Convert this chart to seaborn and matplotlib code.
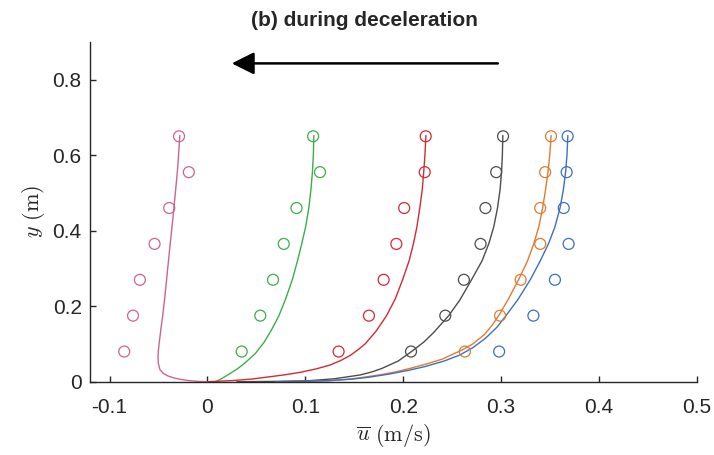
import matplotlib
matplotlib.use("Agg")
import matplotlib.pyplot as plt
import seaborn as sns

# measurement heights (m)
y_obs = [0.65, 0.555, 0.46, 0.365, 0.27, 0.175, 0.08]

u_pink = [-0.029, -0.019, -0.039, -0.054, -0.069, -0.076, -0.085]
u_green = [0.108, 0.115, 0.091, 0.078, 0.067, 0.054, 0.035]
u_red = [0.223, 0.222, 0.201, 0.193, 0.180, 0.165, 0.134]
u_gray = [0.302, 0.295, 0.284, 0.279, 0.262, 0.243, 0.208]
u_orange = [0.351, 0.345, 0.340, 0.340, 0.320, 0.299, 0.263]
u_blue = [0.368, 0.367, 0.364, 0.369, 0.355, 0.333, 0.298]

# model profiles (u, y)
curve_pink_y = [0.0, 0.001, 0.003, 0.006, 0.010, 0.015, 0.022, 0.032, 0.049, 0.065, 0.081, 0.102,
                0.14, 0.175, 0.22, 0.271, 0.32, 0.366, 0.41, 0.461, 0.51, 0.557, 0.60, 0.652]
curve_pink_u = [0.0, -0.010, -0.019, -0.027, -0.034, -0.040, -0.045, -0.0485, -0.0502, -0.0505, -0.0502, -0.0493,
                -0.0475, -0.0457, -0.0437, -0.0417, -0.0398, -0.038, -0.0362, -0.0342, -0.0324, -0.0307, -0.0295, -0.0282]

curve_green_y = [0.0, 0.006, 0.020, 0.035, 0.049, 0.075, 0.105, 0.14, 0.175, 0.22, 0.271, 0.32,
                 0.366, 0.41, 0.461, 0.51, 0.557, 0.60, 0.652]
curve_green_u = [0.008, 0.013, 0.022, 0.031, 0.038, 0.049, 0.058, 0.066, 0.0731, 0.080, 0.0868, 0.092,
                 0.0964, 0.1003, 0.1036, 0.1058, 0.1073, 0.1082, 0.1087]

curve_red_y = [0.0, 0.003, 0.007, 0.012, 0.018, 0.025, 0.034, 0.044, 0.056, 0.070, 0.085, 0.100, 0.133,
               0.175, 0.22, 0.271, 0.32, 0.366, 0.41, 0.461, 0.51, 0.557, 0.60, 0.652]
curve_red_u = [0.0, 0.025, 0.045, 0.060, 0.078, 0.095, 0.111, 0.125, 0.136, 0.146, 0.154, 0.161, 0.172,
               0.183, 0.192, 0.1995, 0.206, 0.2105, 0.214, 0.217, 0.2195, 0.221, 0.2222, 0.2232]

curve_gray_y = [0.0, 0.001, 0.003, 0.008, 0.018, 0.026, 0.035, 0.055, 0.080, 0.105, 0.130, 0.175, 0.217,
                0.271, 0.32, 0.366, 0.41, 0.461, 0.51, 0.557, 0.60, 0.652]
curve_gray_u = [0.03, 0.07, 0.105, 0.13, 0.156, 0.168, 0.178, 0.195, 0.2085, 0.221, 0.231, 0.2465, 0.258,
                0.270, 0.2805, 0.2875, 0.2925, 0.2964, 0.299, 0.3005, 0.3013, 0.3018]

curve_orange_y = [0.0, 0.001, 0.003, 0.007, 0.012, 0.019, 0.026, 0.036, 0.048, 0.060, 0.084, 0.100, 0.125,
                  0.150, 0.177, 0.217, 0.271, 0.32, 0.366, 0.41, 0.461, 0.51, 0.557, 0.60, 0.652]
curve_orange_u = [0.07, 0.10, 0.125, 0.145, 0.160, 0.178, 0.192, 0.208, 0.225, 0.240, 0.260, 0.271, 0.283,
                  0.291, 0.298, 0.307, 0.318, 0.327, 0.3335, 0.3385, 0.3425, 0.3455, 0.348, 0.3497, 0.3511]

curve_blue_y = [0.0, 0.001, 0.003, 0.007, 0.012, 0.020, 0.030, 0.040, 0.055, 0.071, 0.090, 0.115, 0.145,
                0.175, 0.217, 0.271, 0.32, 0.366, 0.41, 0.461, 0.51, 0.557, 0.60, 0.652]
curve_blue_u = [0.07, 0.10, 0.125, 0.148, 0.165, 0.185, 0.205, 0.222, 0.242, 0.258, 0.271, 0.284, 0.296,
                0.305, 0.317, 0.330, 0.340, 0.3485, 0.355, 0.3603, 0.3637, 0.366, 0.3673, 0.3682]

colors = {'pink': '#cc6490', 'green': '#3dae48', 'red': '#d42a32',
          'gray': '#4d4d4d', 'orange': '#e07b30', 'blue': '#3e6fc0'}

profiles = [
    ('pink', u_pink, curve_pink_u, curve_pink_y),
    ('green', u_green, curve_green_u, curve_green_y),
    ('red', u_red, curve_red_u, curve_red_y),
    ('gray', u_gray, curve_gray_u, curve_gray_y),
    ('orange', u_orange, curve_orange_u, curve_orange_y),
    ('blue', u_blue, curve_blue_u, curve_blue_y),
]

sns.set_theme(style='ticks')
plt.rcParams['font.family'] = ['Liberation Sans', 'DejaVu Sans']
plt.rcParams['mathtext.fontset'] = 'cm'

fig = plt.figure(figsize=(7.14, 4.55), dpi=100)
ax = fig.add_axes([0.126, 0.161, 0.850, 0.747])

for name, u_pts, cu, cy in profiles:
    col = colors[name]
    sns.lineplot(x=cu, y=cy, sort=False, estimator=None, color=col,
                 linewidth=1.0, ax=ax)
    sns.scatterplot(x=u_pts, y=y_obs, marker='o', s=62, facecolors='none',
                    edgecolor=col, linewidth=0.9, ax=ax, zorder=3)

# flow direction arrow
ax.annotate('', xy=(0.0249, 0.843), xytext=(0.2967, 0.843),
            arrowprops=dict(arrowstyle='-|>', color='black', lw=1.8,
                            mutation_scale=34, shrinkA=0, shrinkB=0))

ax.set_xlim(-0.12, 0.5)
ax.set_ylim(0, 0.9)
ax.set_xticks([-0.1, 0, 0.1, 0.2, 0.3, 0.4, 0.5])
ax.set_xticklabels(['-0.1', '0', '0.1', '0.2', '0.3', '0.4', '0.5'])
ax.set_yticks([0, 0.2, 0.4, 0.6, 0.8])
ax.set_yticklabels(['0', '0.2', '0.4', '0.6', '0.8'])
sns.despine(ax=ax)
for sp in ['left', 'bottom']:
    ax.spines[sp].set_color('#262626')
    ax.spines[sp].set_linewidth(1.0)
ax.tick_params(axis='both', direction='in', length=4.5, width=1.0,
               colors='#262626', labelsize=15)
ax.tick_params(axis='x', pad=12)
ax.tick_params(axis='y', pad=6)

ax.set_xlabel(r'$\overline{u}\ (\mathrm{m/s})$', fontsize=16, color='#262626', labelpad=3)
ax.set_ylabel(r'$y\ (\mathrm{m})$', fontsize=16, color='#262626', labelpad=4)

fig.text(364 / 714, 1 - 20 / 455, '(b) during deceleration', ha='center', va='center',
         fontsize=15, fontweight='bold')

fig.savefig('out.png', dpi=100)
